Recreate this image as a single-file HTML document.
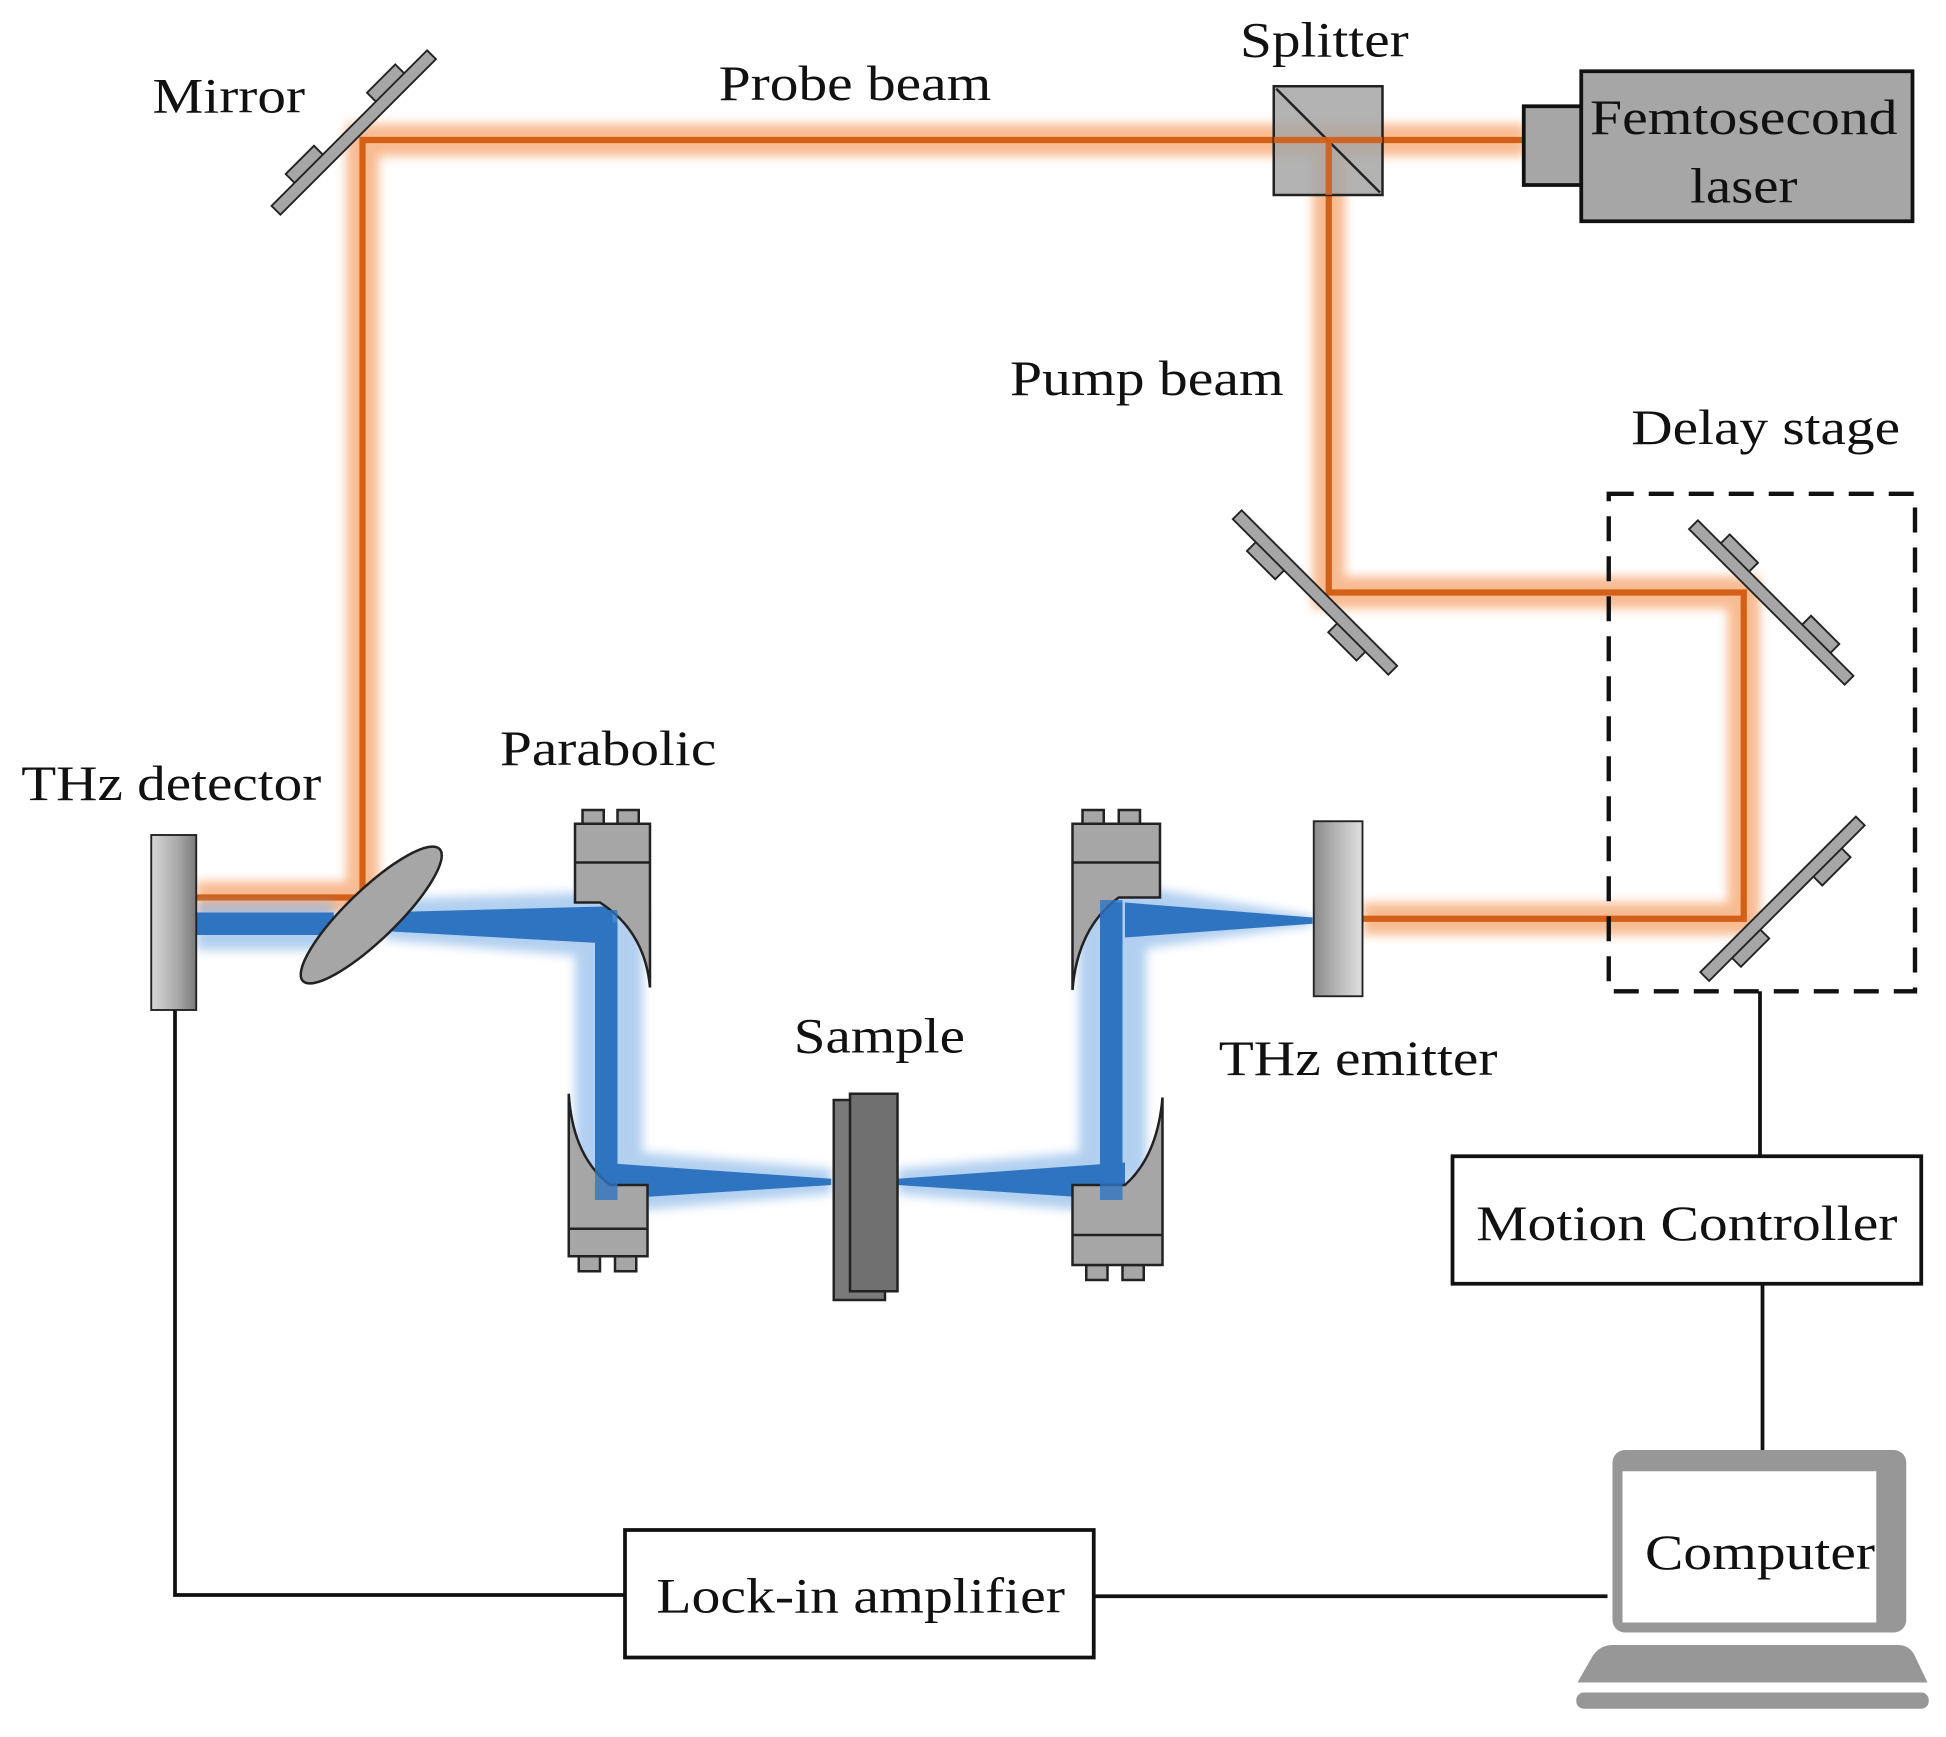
<!DOCTYPE html>
<html><head><meta charset="utf-8"><style>
html,body{margin:0;padding:0;background:#fff;}
svg{display:block;}
text{font-family:"Liberation Serif","Times New Roman",serif;font-size:40px;fill:#111;}
</style></head><body>
<svg width="1946" height="1737" viewBox="0 0 1556.8 1389.6" xmlns="http://www.w3.org/2000/svg">
<defs>
<linearGradient id="gdet" x1="0" x2="1" y1="0" y2="0">
<stop offset="0" stop-color="#d8d8d8"/><stop offset="0.6" stop-color="#a8a8a8"/><stop offset="1" stop-color="#7a7a7a"/>
</linearGradient>
<linearGradient id="gemi" x1="0" x2="1" y1="0" y2="0">
<stop offset="0" stop-color="#8a8a8a"/><stop offset="0.5" stop-color="#b8b8b8"/><stop offset="1" stop-color="#e0e0e0"/>
</linearGradient>
<filter id="blur" x="-20%" y="-20%" width="140%" height="140%"><feGaussianBlur stdDeviation="4"/></filter>
<g id="mir">
<rect x="-62" y="-15" width="32" height="11" fill="#a6a6a6" stroke="#222" stroke-width="1.5"/>
<rect x="30" y="-15" width="32" height="11" fill="#a6a6a6" stroke="#222" stroke-width="1.5"/>
<rect x="-88" y="-5" width="176" height="10" fill="#a6a6a6" stroke="#222" stroke-width="1.5"/>
</g>
</defs>

<!-- orange beams glow -->
<g fill="none" stroke-linejoin="miter">
<g stroke="#f6a56e" stroke-width="26" opacity="0.75" filter="url(#blur)">
<polyline points="1220,112 290,112 290,718 157,718"/>
<polyline points="1063,112 1063,474 1395,474 1395,735 1090,735"/>
</g>
<g stroke="#d45f17" stroke-width="5">
<polyline points="1220,112 290,112 290,718 157,718"/>
<polyline points="1063,112 1063,474 1395,474 1395,735 1090,735"/>
</g>
</g>

<!-- blue beams -->
<g filter="url(#blur)" opacity="0.6" fill="#7fb0e6">
<rect x="157" y="722" width="110" height="38"/>
<polygon points="290,720 490,713 490,767 310,752"/>
<rect x="460" y="730" width="54" height="225"/>
<polygon points="470,918 665,935 665,955 470,972"/>
<polygon points="718,935 905,918 905,972 718,955"/>
<rect x="863" y="712" width="54" height="230"/>
<polygon points="895,706 1050,733 1050,740 895,762"/>
</g>
<g fill="#2f74c0">
<rect x="157" y="730" width="110" height="18"/>
<polygon points="300,730 490,725 490,755 310,745"/>
<rect x="476" y="738" width="18" height="205"/>
<polygon points="478,930 665,943 665,948 478,960"/>
<polygon points="718,943 900,930 900,960 718,948"/>
<rect x="880" y="722" width="18" height="210"/>
<polygon points="900,722 1050,734 1050,739 900,750"/>
</g>

<use href="#mir" transform="translate(283,106) rotate(-45)"/>
<use href="#mir" transform="translate(1052,474) rotate(45) scale(1,-1)"/>
<use href="#mir" transform="translate(1417,482) rotate(45)"/>
<use href="#mir" transform="translate(1426,719) rotate(-45) scale(1,-1)"/>

<!-- splitter -->
<rect x="1019" y="69" width="87" height="87" fill="#a6a6a6" fill-opacity="0.85" stroke="#222" stroke-width="2"/>
<line x1="1021" y1="71" x2="1104" y2="154" stroke="#222" stroke-width="2"/>
<line x1="1019" y1="112" x2="1106" y2="112" stroke="#d45f17" stroke-width="5" opacity="0.9"/>
<line x1="1063" y1="112" x2="1063" y2="156" stroke="#d45f17" stroke-width="5" opacity="0.9"/>

<!-- laser -->
<rect x="1219" y="85" width="46" height="63" fill="#a6a6a6" stroke="#111" stroke-width="3"/>
<rect x="1265" y="57" width="265" height="120" fill="#a6a6a6" stroke="#111" stroke-width="3"/>

<rect x="1287" y="395" width="245" height="398" fill="none" stroke="#111" stroke-width="3.5" stroke-dasharray="20,12"/>

<g stroke="#111" stroke-width="3" fill="none">
<line x1="1408" y1="793" x2="1408" y2="925"/>
<line x1="1410" y1="1027" x2="1410" y2="1160"/>
<polyline points="140,808 140,1276 500,1276"/>
<line x1="875" y1="1277" x2="1286" y2="1277"/>
</g>
<rect x="1162" y="925" width="375" height="102" fill="#fff" stroke="#111" stroke-width="3"/>
<rect x="500" y="1224" width="375" height="102" fill="#fff" stroke="#111" stroke-width="3"/>

<!-- computer -->
<rect x="1290" y="1160" width="235" height="146" rx="10" fill="#979797"/>
<rect x="1298" y="1177" width="203" height="121" fill="#fff"/>
<path d="M1290,1316 H1518 Q1528,1316 1532,1325 L1542,1346 H1262 L1274,1325 Q1280,1316 1290,1316 Z" fill="#979797"/>
<rect x="1261" y="1354" width="282" height="13" rx="6" fill="#979797"/>

<rect x="121" y="668" width="36" height="140" fill="url(#gdet)" stroke="#222" stroke-width="1.5"/>
<ellipse cx="297" cy="732" rx="76" ry="20" transform="rotate(-44 297 732)" fill="#a6a6a6" stroke="#222" stroke-width="2"/>

<g fill="#a6a6a6" stroke="#222" stroke-width="2">
<rect x="466" y="648" width="17" height="11"/><rect x="494" y="648" width="17" height="11"/>
<path d="M460,659 H520 V790 Q516,745 480,722 H460 Z"/>
<line x1="460" y1="690" x2="520" y2="690"/>
<rect x="463" y="1005" width="17" height="12"/><rect x="492" y="1005" width="17" height="12"/>
<path d="M455,875 Q458,925 488,948 H518 V1005 H455 Z"/>
<line x1="455" y1="983" x2="518" y2="983"/>
<rect x="866" y="648" width="17" height="11"/><rect x="895" y="648" width="17" height="11"/>
<path d="M858,659 H928 V718 H895 Q862,742 858,792 Z"/>
<line x1="858" y1="690" x2="928" y2="690"/>
<rect x="869" y="1012" width="17" height="12"/><rect x="898" y="1012" width="17" height="12"/>
<path d="M930,878 Q926,925 900,948 H858 V1012 H930 Z"/>
<line x1="858" y1="988" x2="930" y2="988"/>
</g>
<rect x="476" y="728" width="18" height="30" fill="#2f74c0" opacity="0.8"/>
<rect x="880" y="720" width="18" height="30" fill="#2f74c0" opacity="0.8"/>
<rect x="476" y="930" width="18" height="30" fill="#2f74c0" opacity="0.8"/>
<rect x="880" y="930" width="18" height="30" fill="#2f74c0" opacity="0.8"/>

<rect x="667" y="880" width="41" height="160" fill="#7a7a7a" stroke="#222" stroke-width="2"/>
<rect x="680" y="875" width="38" height="158" fill="#707070" stroke="#222" stroke-width="2"/>

<rect x="1051" y="657" width="39" height="140" fill="url(#gemi)" stroke="#222" stroke-width="1.5"/>

<text x="122" y="90" textLength="122" lengthAdjust="spacingAndGlyphs">Mirror</text>
<text x="575" y="80" textLength="218" lengthAdjust="spacingAndGlyphs">Probe beam</text>
<text x="992" y="45" textLength="135" lengthAdjust="spacingAndGlyphs">Splitter</text>
<text x="1272" y="107" textLength="246" lengthAdjust="spacingAndGlyphs">Femtosecond</text>
<text x="1352" y="162" textLength="86" lengthAdjust="spacingAndGlyphs">laser</text>
<text x="808" y="316" textLength="219" lengthAdjust="spacingAndGlyphs">Pump beam</text>
<text x="1305" y="355" textLength="215" lengthAdjust="spacingAndGlyphs">Delay stage</text>
<text x="17" y="640" textLength="240" lengthAdjust="spacingAndGlyphs">THz detector</text>
<text x="400" y="612" textLength="173" lengthAdjust="spacingAndGlyphs">Parabolic</text>
<text x="635" y="842" textLength="137" lengthAdjust="spacingAndGlyphs">Sample</text>
<text x="975" y="860" textLength="223" lengthAdjust="spacingAndGlyphs">THz emitter</text>
<text x="1181" y="992" textLength="337" lengthAdjust="spacingAndGlyphs">Motion Controller</text>
<text x="1316" y="1255" textLength="184" lengthAdjust="spacingAndGlyphs">Computer</text>
<text x="525" y="1290" textLength="327" lengthAdjust="spacingAndGlyphs">Lock-in amplifier</text>
</svg>
</body></html>
